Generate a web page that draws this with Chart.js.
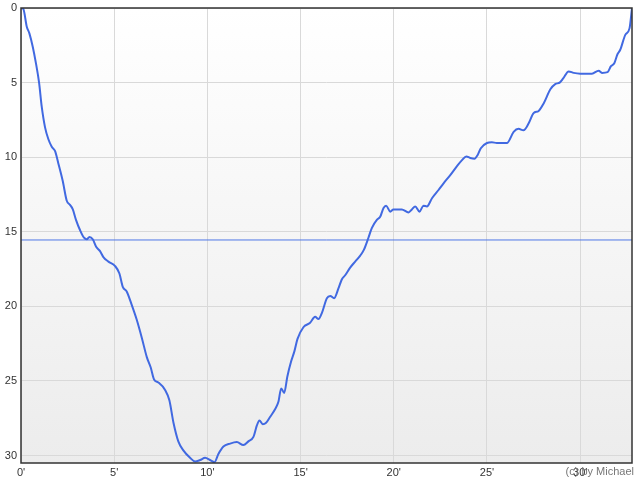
<!DOCTYPE html>
<html>
<head>
<meta charset="utf-8">
<script src="https://cdn.jsdelivr.net/npm/chart.js@4/dist/chart.umd.min.js"></script>
<style>
html,body{margin:0;padding:0;background:#fff;}
#wrap{width:640px;height:480px;}
</style>
</head>
<body>
<div id="wrap"><canvas id="c" width="640" height="480"></canvas></div>
<script>
// Dive profile: time (minutes) and depth (m)
const timeMin = [0,0.12,0.31,0.45,0.63,0.8,0.97,1.11,1.29,1.47,1.65,1.83,2.0,2.24,2.45,2.63,2.78,2.95,3.17,3.38,3.53,3.67,3.85,4.03,4.24,4.42,4.69,5.05,5.28,5.46,5.67,5.94,6.21,6.48,6.75,6.96,7.14,7.37,7.73,7.96,8.18,8.44,8.71,9.07,9.34,9.61,9.88,10.14,10.38,10.59,10.86,11.22,11.58,11.93,12.2,12.47,12.65,12.79,12.97,13.15,13.37,13.63,13.81,13.96,14.12,14.29,14.49,14.67,14.83,15.15,15.51,15.78,15.96,16.14,16.41,16.59,16.8,17.03,17.21,17.4,17.66,17.93,18.2,18.4,18.64,18.82,19.09,19.27,19.45,19.59,19.81,19.98,20.43,20.79,20.97,21.15,21.38,21.59,21.78,22.05,22.4,22.67,23.03,23.39,23.66,23.89,24.1,24.33,24.5,24.67,25.0,25.26,25.53,26.07,26.43,26.69,26.96,27.23,27.5,27.77,28.04,28.4,28.66,28.9,29.1,29.38,29.65,30.0,30.63,30.99,31.17,31.47,31.65,31.83,32.0,32.15,32.42,32.65,32.78];
const depthM = [0,0.05,1.25,1.7,2.6,3.7,5.0,6.6,8.0,8.8,9.3,9.6,10.4,11.6,12.9,13.2,13.5,14.2,14.9,15.4,15.5,15.35,15.5,16.0,16.3,16.7,17.0,17.3,17.8,18.7,19.0,19.9,20.9,22.1,23.4,24.1,24.9,25.1,25.6,26.3,27.8,29.05,29.65,30.15,30.4,30.3,30.15,30.3,30.45,29.9,29.4,29.2,29.1,29.3,29.05,28.75,28.0,27.65,27.9,27.8,27.4,26.9,26.4,25.5,25.8,24.7,23.7,23.0,22.2,21.4,21.1,20.7,20.85,20.45,19.45,19.3,19.45,18.8,18.2,17.9,17.4,17.0,16.6,16.2,15.4,14.75,14.2,14.0,13.4,13.25,13.65,13.5,13.5,13.7,13.5,13.3,13.65,13.25,13.3,12.75,12.2,11.75,11.2,10.6,10.2,9.95,10.05,10.1,9.85,9.4,9.05,9.0,9.05,9.05,8.3,8.1,8.2,7.75,7.05,6.9,6.4,5.45,5.1,5.0,4.7,4.25,4.35,4.4,4.4,4.2,4.35,4.3,3.9,3.7,3.1,2.8,1.8,1.35,0.0];
const avgDepth = 15.55;
const xTicks = [0,5,10,15,20,25,30];
const yTicks = [0,5,10,15,20,25,30];
const yMax = 30.5;
const watermark = "(c) by Michael";

const profile = timeMin.map((t,i)=>({x:t,y:depthM[i]}));
const tEnd = timeMin[timeMin.length-1];
const avgLine = [{x:0,y:avgDepth},{x:tEnd,y:avgDepth}];

const FONT = {family:"Arial, 'Liberation Sans', sans-serif", size:11};

const deco = {
  id:'deco',
  beforeDraw(chart){
    const {ctx, chartArea:a} = chart;
    const g = ctx.createLinearGradient(0,a.top,0,a.bottom);
    g.addColorStop(0,'#ffffff');
    g.addColorStop(1,'#ececec');
    ctx.save();
    ctx.fillStyle = g;
    ctx.fillRect(a.left,a.top,a.right-a.left,a.bottom-a.top);
    ctx.restore();
  },
  afterDraw(chart){
    const {ctx, chartArea:a} = chart;
    ctx.save();
    ctx.strokeStyle = '#333333';
    ctx.lineWidth = 1.5;
    ctx.strokeRect(a.left,a.top,a.right-a.left,a.bottom-a.top);
    ctx.fillStyle = '#777777';
    ctx.font = "11px Arial, 'Liberation Sans', sans-serif";
    ctx.textAlign = 'right';
    ctx.textBaseline = 'top';
    ctx.fillText(watermark, 634, a.bottom+3);
    ctx.restore();
  }
};

new Chart(document.getElementById('c'), {
  type:'line',
  data:{
    datasets:[
      {data:profile, borderColor:'rgb(65,105,225)', borderWidth:2, pointRadius:0, fill:false, cubicInterpolationMode:'monotone'},
      {data:avgLine, borderColor:'rgb(80,120,230)', borderWidth:1, pointRadius:0, fill:false, tension:0}
    ]
  },
  options:{
    responsive:false,
    animation:false,
    events:[],
    layout:{padding:{top:0,right:8,left:0,bottom:0}},
    plugins:{legend:{display:false},tooltip:{enabled:false}},
    scales:{
      x:{
        type:'linear', min:0, max:tEnd,
        afterBuildTicks(s){ s.ticks = xTicks.map(v=>({value:v})); },
        afterFit(s){ s.height = 17; },
        ticks:{font:FONT, color:'#333', padding:3, maxRotation:0, callback:v=>v+"'"},
        grid:{color:'#d9d9d9', drawTicks:false, lineWidth:1},
        border:{display:false}
      },
      y:{
        type:'linear', reverse:true, min:0, max:yMax,
        afterBuildTicks(s){ s.ticks = yTicks.map(v=>({value:v})); },
        afterFit(s){ s.width = 21; s.paddingTop = 8; },
        ticks:{font:FONT, color:'#333', padding:4},
        grid:{color:'#d9d9d9', drawTicks:false, lineWidth:1},
        border:{display:false}
      }
    }
  },
  plugins:[deco]
});
</script>
</body>
</html>
